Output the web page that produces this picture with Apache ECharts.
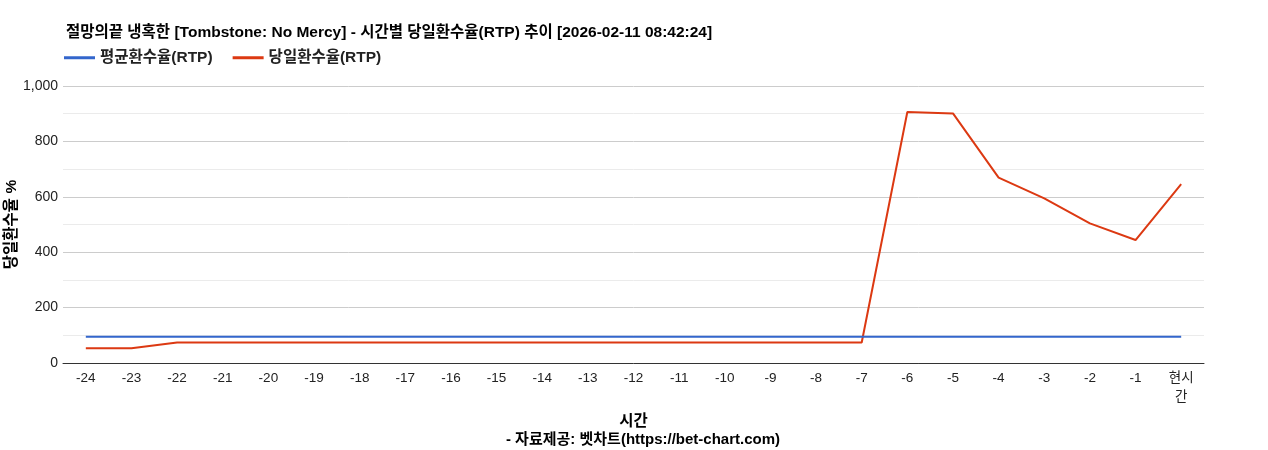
<!DOCTYPE html>
<html>
<head>
<meta charset="utf-8">
<script src="https://cdn.jsdelivr.net/npm/echarts@6/dist/echarts.min.js"></script>
<style>
  html, body { margin: 0; padding: 0; background: #fff; }
  #chart { width: 1268px; height: 450px; }
</style>
</head>
<body>
<div id="chart"></div>
<script>
const hours = ['-24', '-23', '-22', '-21', '-20', '-19', '-18', '-17', '-16', '-15', '-14', '-13',
  '-12', '-11', '-10', '-9', '-8', '-7', '-6', '-5', '-4', '-3', '-2', '-1', '현시간'];
const avgRtp = [95, 95, 95, 95, 95, 95, 95, 95, 95, 95, 95, 95, 95, 95, 95, 95, 95, 95, 95, 95, 95, 95, 95, 95, 95];
const dayRtp = [53, 53, 74, 74, 74, 74, 74, 74, 74, 74, 74, 74, 74, 74, 74, 74, 74, 74, 906, 901, 669, 594, 504, 444, 646];

const FONT = '"Liberation Sans", Arial, "Noto Sans CJK KR", sans-serif';

const chart = echarts.init(document.getElementById('chart'));

const option = {
  color: ['#3366cc', '#dc3912'],
  animation: false,
  textStyle: { fontFamily: FONT },
  title: [
    {
      text: '절망의끝 냉혹한 [Tombstone: No Mercy] - 시간별 당일환수율(RTP) 추이 [2026-02-11 08:42:24]',
      left: 61,
      top: 20,
      textStyle: { fontSize: 15.5, fontWeight: 'bold', color: '#000', fontFamily: FONT }
    },
    {
      text: '- 자료제공: 벳차트(https://bet-chart.com)',
      left: 638,
      top: 427,
      textAlign: 'center',
      textStyle: { fontSize: 15, fontWeight: 'bold', color: '#000', fontFamily: FONT }
    }
  ],
  legend: {
    left: 59,
    top: 45,
    itemWidth: 31,
    itemHeight: 3,
    itemGap: 20,
    icon: 'rect',
    textStyle: { fontSize: 15.5, fontWeight: 'bold', color: '#222', fontFamily: FONT },
    data: ['평균환수율(RTP)', '당일환수율(RTP)']
  },
  grid: {
    left: 63,
    right: 64,
    top: 86,
    bottom: 87,
    containLabel: false,
    outerBoundsMode: 'none'
  },
  xAxis: {
    type: 'category',
    data: hours,
    name: '시간',
    nameLocation: 'middle',
    nameGap: 51,
    nameMoveOverlap: false,
    nameTextStyle: { fontSize: 15.5, fontWeight: 'bold', color: '#000' },
    axisLine: { lineStyle: { color: '#333', width: 1 } },
    axisTick: { show: false },
    axisLabel: {
      color: '#222',
      fontSize: 13.5,
      margin: 6,
      interval: 0,
      lineHeight: 19,
      formatter: v => v === '현시간' ? '현시\n간' : v
    }
  },
  yAxis: {
    type: 'value',
    min: 0,
    max: 1000,
    interval: 200,
    name: '당일환수율 %',
    nameLocation: 'middle',
    nameGap: 44,
    nameMoveOverlap: false,
    nameTextStyle: { fontSize: 15.5, fontWeight: 'bold', color: '#000' },
    axisLine: { show: false },
    axisTick: { show: false },
    axisLabel: {
      color: '#222',
      fontSize: 14,
      margin: 5,
      formatter: v => v.toLocaleString('en-US')
    },
    splitLine: { lineStyle: { color: '#cccccc' } },
    minorTick: { show: false, splitNumber: 2 },
    minorSplitLine: { show: true, lineStyle: { color: '#ebebeb' } }
  },
  series: [
    {
      name: '평균환수율(RTP)',
      type: 'line',
      data: avgRtp,
      showSymbol: false,
      lineStyle: { width: 2, color: '#3366cc' },
      z: 3
    },
    {
      name: '당일환수율(RTP)',
      type: 'line',
      data: dayRtp,
      showSymbol: false,
      lineStyle: { width: 2, color: '#dc3912' },
      z: 2
    }
  ]
};

chart.setOption(option);
</script>
</body>
</html>
